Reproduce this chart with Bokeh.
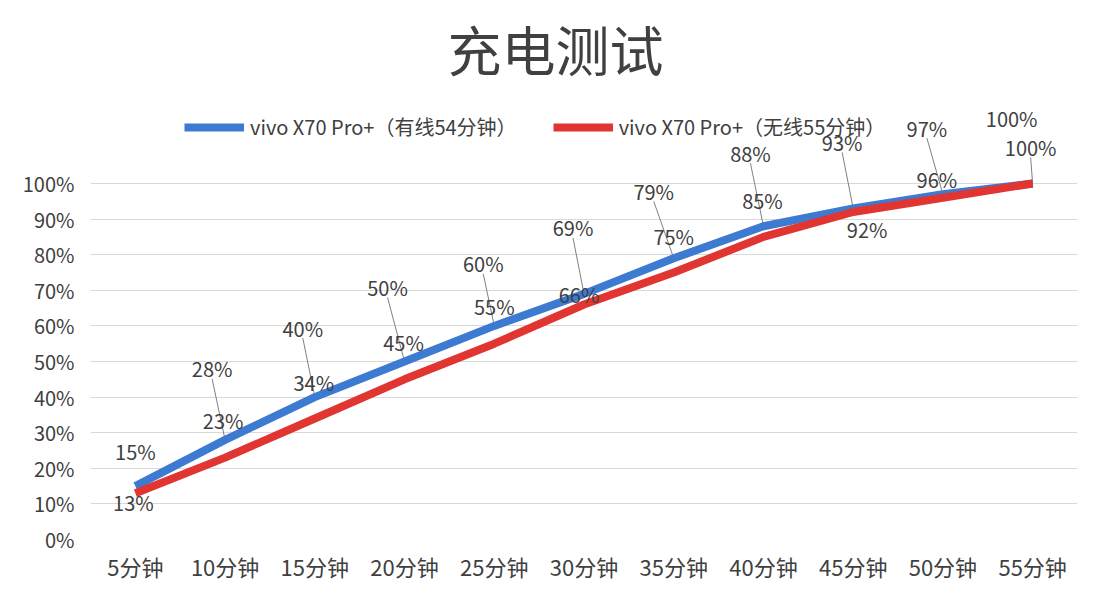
from bokeh.plotting import figure
from bokeh.models import (FactorRange, Range1d, FixedTicker, PrintfTickFormatter,
                          ColumnDataSource, Legend, LegendItem)
from bokeh.embed import file_html
from bokeh.resources import INLINE
from bokeh.core.properties import value

# ---------------- data ----------------
categories = ["5分钟", "10分钟", "15分钟", "20分钟", "25分钟", "30分钟",
              "35分钟", "40分钟", "45分钟", "50分钟", "55分钟"]
wired = [15, 28, 40, 50, 60, 69, 79, 88, 93, 97, 100]
wireless = [13, 23, 34, 45, 55, 66, 75, 85, 92, 96, 100]
series_names = ["vivo X70 Pro+（有线54分钟）", "vivo X70 Pro+（无线55分钟）"]
chart_title = "充电测试"
y_ticks = [0, 10, 20, 30, 40, 50, 60, 70, 80, 90, 100]

# ---------------- label placement (screen px offsets) ----------------
wired_dx = [0, -13, -12, -17, -11, -11, -20, -13, -11, -16, -21]
wired_dy = [-35, -71, -69, -74, -62, -66, -67, -73, -66, -66, -65]
wired_leader = [False, True, True, True, True, True, True, True, True, True, False]
wireless_dx = [-2, -2, -1, -1, 0, -5, 0, -1, 14, -6, -2]
wireless_dy = [9, -37, -36, -37, -37, -10, -36, -36, 18, -18, -36]
wireless_leader = [False] * 10 + [True]

W, H = 1092, 588
LEFT, RIGHT, TOP, BOTTOM = 90, 15, 88, 49
frame_w = W - LEFT - RIGHT
frame_h = H - TOP - BOTTOM
px_per_pct = 3.56
y_end = frame_h / px_per_pct
px_per_cat = frame_w / len(categories)

TEXT = "#404040"
FONT = "Noto Sans CJK SC"
BLUE = "#3d7ad2"
RED = "#e03530"

p = figure(width=W, height=H, x_range=FactorRange(*categories, range_padding=0),
           y_range=Range1d(0, y_end), output_backend="svg", toolbar_location=None,
           min_border_left=LEFT, min_border_right=RIGHT, min_border_top=TOP,
           min_border_bottom=BOTTOM)
p.outline_line_color = None
p.background_fill_color = "white"
p.border_fill_color = "white"

p.title.text = chart_title
p.title.align = "left"
p.title.offset = 357
p.title.standoff = 1
p.title.text_font = FONT
p.title.text_font_size = "54px"
p.title.text_font_style = "normal"
p.title.text_color = TEXT

p.xgrid.grid_line_color = None
p.ygrid.grid_line_color = "#d9d9d9"
p.ygrid.grid_line_width = 1
p.yaxis.ticker = FixedTicker(ticks=y_ticks)
p.yaxis.formatter = PrintfTickFormatter(format="%d%%")
for ax in (p.xaxis, p.yaxis):
    ax.axis_line_color = None
    ax.major_tick_line_color = None
    ax.minor_tick_line_color = None
    ax.major_label_text_font = FONT
    ax.major_label_text_color = TEXT
p.yaxis.major_label_text_font_size = "20px"
p.yaxis.major_label_standoff = 10
p.xaxis.major_label_text_font_size = "22px"
p.xaxis.major_label_standoff = 4


def leaders(vals, dx, dy, flags):
    x0, y0, x1, y1 = [], [], [], []
    for i, (v, a, b, f) in enumerate(zip(vals, dx, dy, flags)):
        if not f:
            continue
        cx = i + 0.5
        x0.append(cx + a / px_per_cat)
        y0.append(v - (b + 10) / px_per_pct)
        x1.append(cx)
        y1.append(v)
    return dict(x0=x0, y0=y0, x1=x1, y1=y1)


for vals, dx, dy, fl in ((wired, wired_dx, wired_dy, wired_leader),
                         (wireless, wireless_dx, wireless_dy, wireless_leader)):
    p.segment("x0", "y0", "x1", "y1", source=ColumnDataSource(leaders(vals, dx, dy, fl)),
              line_color="#808080", line_width=1)

src_w = ColumnDataSource(dict(x=categories, y=wired, t=[f"{v}%" for v in wired],
                              dx=wired_dx, dy=wired_dy))
src_r = ColumnDataSource(dict(x=categories, y=wireless, t=[f"{v}%" for v in wireless],
                              dx=wireless_dx, dy=wireless_dy))

r_blue = p.line("x", "y", source=src_w, line_color=BLUE, line_width=8, line_join="round")
r_red = p.line("x", "y", source=src_r, line_color=RED, line_width=8, line_join="round")

for src in (src_w, src_r):
    p.text("x", "y", text="t", source=src, x_offset="dx", y_offset="dy",
           text_align="center", text_baseline="middle", text_font=value(FONT),
           text_font_size="20px", text_color=TEXT)

legend = Legend(items=[LegendItem(label=series_names[0], renderers=[r_blue]),
                       LegendItem(label=series_names[1], renderers=[r_red])],
                orientation="horizontal", location=(94, frame_h - 53),
                glyph_width=60, glyph_height=20, label_height=20, label_standoff=6,
                spacing=36, padding=0, margin=0, border_line_color=None,
                background_fill_alpha=0, label_text_font=FONT,
                label_text_font_size="20px", label_text_color=TEXT)
p.add_layout(legend)

open("out.html", "w").write(file_html(p, INLINE))
